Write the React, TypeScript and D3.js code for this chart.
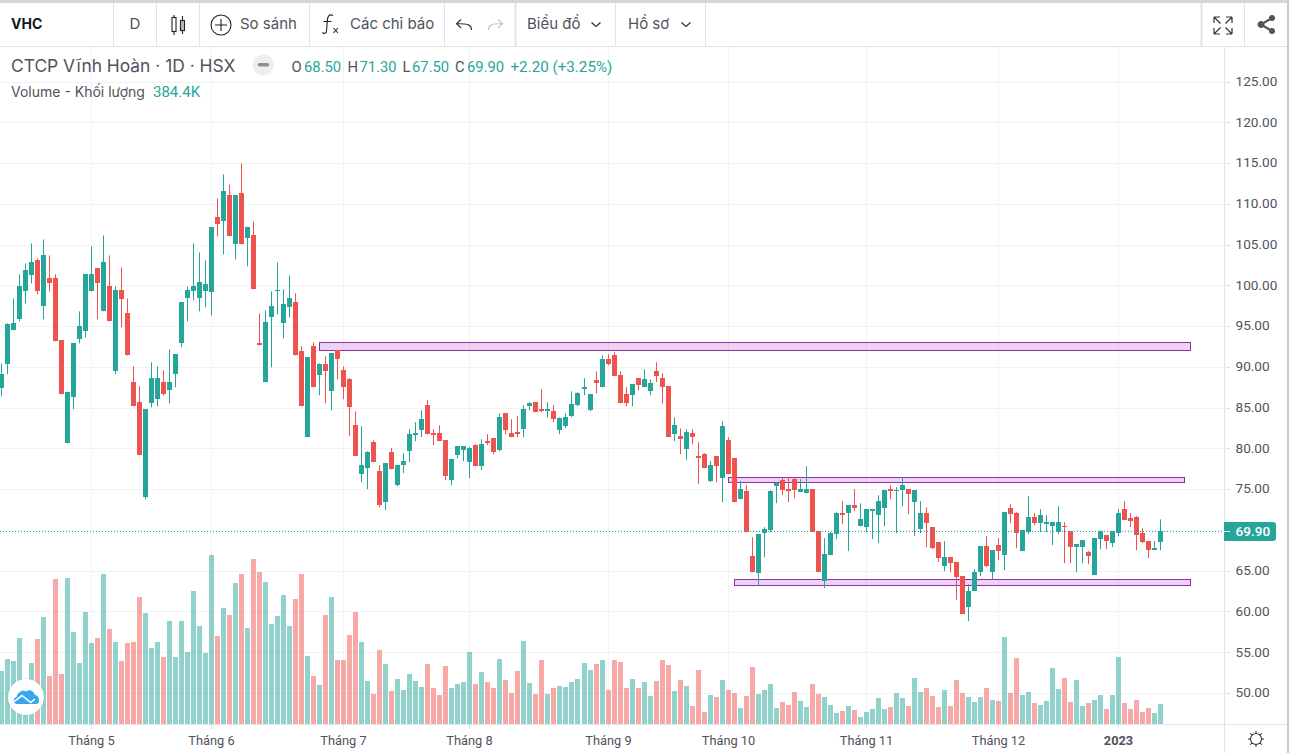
import * as d3 from 'd3'

const opens = [
    87.37,90.31,94.48,95.83,99.26,101.22,103.06,97.42,100.85,100.85,
    93.26,80.63,86.27,93.38,94.36,99.26,102.08,96.81,99.87,89.46,
    99.38,96.56,88.11,85.66,74.01,85.53,86.02,88.11,87.13,89.09,
    92.89,98.40,99.26,98.40,99.26,99.14,108.33,107.84,111.03,105.02,
    111.27,105.76,106.12,92.90,88.11,96.07,99.26,95.34,97.30,97.91,
    91.91,81.37,92.52,88.97,90.32,87.01,92.03,89.58,88.48,82.84,
    76.84,77.57,80.76,77.21,73.41,79.53,75.49,77.94,79.66,81.62,
    82.23,85.29,81.86,81.86,81.0,76.10,79.17,79.78,78.31,80.39,
    77.82,80.88,81.25,79.78,84.31,81.86,81.98,82.35,85.17,85.66,
    84.80,84.56,84.56,82.23,82.72,83.95,85.29,87.25,84.68,88.36,
    87.50,90.93,91.42,88.97,86.64,86.51,88.60,87.50,87.01,89.46,
    88.60,87.62,81.74,81.49,79.90,81.86,79.04,79.28,75.98,79.04,
    76.34,81.0,78.79,73.77,74.75,66.78,64.70,69.60,69.97,75.37,
    76.10,75.0,76.22,74.63,74.51,75.0,69.85,63.72,66.91,69.48,
    72.06,72.06,73.03,70.46,70.34,72.30,71.81,72.67,75.0,74.75,
    74.87,75.0,73.40,70.09,72.06,70.34,68.50,65.56,66.66,66.05,
    64.33,60.54,62.50,64.82,68.01,64.82,68.13,66.91,72.67,72.06,
    67.40,69.73,71.56,70.83,70.71,70.46,69.73,70.46,69.85,67.89,
    67.89,67.28,64.46,68.87,69.36,68.38,69.60,72.55,71.44,71.56,
    69.60,68.62,67.52,68.50
]

const closes = [
    89.09,95.22,95.34,99.87,101.83,102.81,99.26,103.67,100.24,93.13,
    86.64,86.88,92.89,94.97,101.34,101.34,100.24,102.81,95.58,99.38,
    98.28,91.42,85.17,79.16,84.80,88.60,88.60,86.64,88.11,91.54,
    97.91,99.38,99.87,100.36,100.12,107.10,107.47,111.52,106.00,111.03,
    105.02,107.10,99.51,92.70,95.46,97.42,99.38,97.67,98.40,91.42,
    85.17,91.17,87.50,90.32,89.46,91.67,90.93,87.50,85.05,79.05,
    77.94,79.53,78.31,73.04,78.19,77.45,77.94,78.43,81.74,81.86,
    83.58,81.74,81.62,80.88,76.59,78.68,80.27,80.27,80.03,77.82,
    80.52,80.64,79.53,83.82,82.23,81.37,81.74,84.80,85.54,84.44,
    84.56,84.80,83.58,83.70,83.82,85.42,86.76,87.50,86.64,87.99,
    90.93,90.32,88.85,85.54,85.53,87.86,87.74,88.48,87.99,88.84,
    87.50,81.37,82.84,81.12,81.98,81.37,78.79,77.57,77.94,77.81,
    82.72,76.83,73.40,75.0,69.73,64.82,69.48,70.09,74.75,75.73,
    74.87,74.75,74.87,75.0,75.0,69.73,64.82,67.03,69.60,72.06,
    71.81,73.03,72.67,71.32,72.54,72.54,73.53,74.87,74.75,74.87,
    75.49,74.38,74.87,72.06,70.83,67.77,66.54,66.66,65.93,64.21,
    59.68,62.50,64.82,68.01,65.56,67.52,67.40,72.18,71.93,69.60,
    69.97,71.56,70.83,71.81,70.95,70.95,70.95,70.34,67.89,68.26,
    68.75,66.79,68.99,69.85,68.62,69.85,72.06,71.20,71.07,69.36,
    68.50,67.52,67.77,69.90
]

const highs = [
    90.40,95.34,98.40,101.34,102.69,105.14,103.30,105.63,103.67,101.34,
    93.26,86.88,92.89,96.81,101.34,104.78,102.08,106.12,103.67,99.87,
    102.20,98.40,90.07,87.62,84.80,90.56,90.07,89.58,92.15,91.54,
    97.91,99.87,105.14,104.04,103.06,107.10,110.66,113.60,112.37,111.03,
    114.95,107.10,107.84,96.56,96.93,99.26,102.81,99.51,101.22,99.02,
    92.52,91.17,93.01,90.44,91.30,91.67,92.03,90.07,88.60,84.56,
    82.72,79.66,81.0,77.94,78.19,80.03,77.94,79.41,82.35,83.21,
    84.68,85.91,82.35,82.84,81.0,78.68,80.27,80.27,80.15,80.52,
    81.13,81.74,81.25,84.31,84.31,83.58,83.95,85.29,85.66,85.66,
    87.25,85.66,85.29,83.82,84.31,87.01,86.89,88.60,86.64,89.46,
    91.42,91.54,91.79,89.46,87.50,87.86,88.60,89.70,88.48,90.56,
    89.21,87.62,83.82,82.47,82.35,82.35,80.76,79.41,78.43,79.04,
    83.33,81.37,78.79,75.98,75.49,69.11,69.48,70.34,74.87,75.85,
    76.47,76.47,76.50,76.22,77.81,75.0,69.85,68.99,69.73,72.18,
    73.53,73.03,75.0,73.28,72.54,72.54,74.26,74.87,75.49,75.24,
    76.47,75.0,74.87,73.53,72.79,70.34,68.50,68.62,66.66,66.05,
    64.33,63.35,65.19,68.01,69.24,67.52,68.99,72.18,73.16,72.18,
    69.97,74.14,72.06,72.55,71.81,70.95,72.91,70.95,69.85,68.26,
    68.75,67.40,68.99,69.85,69.36,69.85,72.55,73.53,72.06,71.69,
    70.22,68.62,68.62,71.30
]

const lows = [
    86.39,89.09,94.48,95.58,97.79,100.24,98.89,95.83,99.26,93.13,
    86.64,80.63,84.80,92.89,93.62,99.26,95.83,96.81,95.58,89.09,
    94.85,91.42,85.17,79.16,73.77,85.04,85.17,86.51,85.53,87.50,
    92.40,95.58,98.16,96.81,97.30,96.32,106.00,103.79,106.00,103.18,
    105.02,102.32,99.51,92.64,88.11,89.95,96.44,93.50,96.07,91.42,
    85.17,81.37,87.50,86.52,85.54,84.68,88.48,86.03,81.50,79.05,
    75.86,75.00,78.31,72.79,72.43,77.45,75.37,76.96,78.31,80.88,
    81.37,81.74,80.39,80.88,76.10,75.49,78.80,78.43,76.35,77.82,
    77.33,80.39,79.29,79.66,81.74,81.37,81.37,81.37,84.68,84.44,
    84.44,83.82,83.21,81.74,82.48,83.82,85.17,86.52,84.56,86.76,
    87.50,90.20,88.85,85.54,85.17,85.17,87.13,87.50,86.51,88.11,
    85.53,81.37,80.88,79.28,78.55,80.51,75.61,77.57,75.85,75.85,
    73.40,76.83,73.40,73.77,69.73,64.82,63.23,66.66,69.73,73.28,
    74.26,73.40,73.89,74.63,74.51,69.73,64.82,62.86,66.91,68.87,
    70.71,67.40,72.30,70.46,69.73,68.87,68.38,70.46,73.77,69.60,
    72.91,71.93,69.24,69.60,67.89,67.64,66.05,64.95,64.82,61.39,
    59.68,58.82,62.50,64.33,65.44,63.97,66.29,65.07,70.83,67.77,
    67.40,69.48,70.58,69.73,69.73,68.13,69.48,65.93,65.93,64.82,
    65.93,65.80,64.46,67.64,67.64,67.89,69.24,71.20,70.34,67.52,
    68.38,66.54,67.52,67.50
]

// thousands of shares
const volumes = [
    1018,1248,1210,1651,590,1171,1632,2054,922,2784,
    960,2803,1766,1171,2150,1555,1651,2880,1824,1574,
    1210,1555,1574,2438,2131,1459,1574,1286,1978,1286,
    1978,1382,2554,1882,1363,3245,1690,2227,2093,2707,
    2880,1843,3168,2918,2726,1920,2074,2477,1882,2400,
    2880,1306,922,749,2093,2438,1229,1229,1709,2150,
    1574,826,576,1421,1152,634,864,653,960,826,
    710,1152,691,557,1114,691,768,806,1382,768,
    998,806,691,1248,845,595,1018,1594,787,576,
    1229,576,691,730,710,806,864,1171,1037,1152,
    1229,653,1229,1190,691,864,691,806,538,826,
    1229,1133,634,845,730,346,1037,230,557,518,
    845,653,595,307,538,1094,576,653,768,307,
    422,365,614,442,326,768,576,518,365,211,
    250,346,269,134,230,288,499,288,326,595,
    499,346,883,614,691,538,326,653,346,845,
    595,518,422,518,691,461,442,1670,595,1267,
    557,614,403,365,442,1075,672,883,422,845,
    346,403,461,557,288,557,1286,403,288,461,
    230,307,211,384.4
]

const priceTicks = [125, 120, 115, 110, 105, 100, 95, 90, 85, 80, 75, 65, 60, 55, 50]
const monthIndex = [15, 35, 57, 78, 101, 121, 144, 166, 186]
const monthLabels = ['Tháng 5', 'Tháng 6', 'Tháng 7', 'Tháng 8', 'Tháng 9', 'Tháng 10', 'Tháng 11', 'Tháng 12', '2023']

// drawn rectangles: first candle, last candle, upper price, lower price
const zoneStart = [53, 121, 122]
const zoneEnd = [198, 197, 198]
const zoneTop = [93.0, 76.44, 63.93]
const zoneBottom = [92.02, 75.83, 63.19]

const lastPrice = 69.9

// legend readout of the last candle
const ohlcNames = ['O', 'H', 'L', 'C']
const ohlcValues = ['68.50', '71.30', '67.50', '69.90']

const UP = '#26a69a'
const DOWN = '#ef5350'
const GRID = '#f2f3f5'
const BORDER = '#e0e3eb'
const TEXT = '#50535e'
const FONT = 'Roboto, sans-serif'
const UI_FONT = 'Inter, sans-serif'

const x = d3.scaleLinear().domain([0, 193]).range([1.5, 1160.5])
const y = d3.scaleLinear().domain([50, 125]).range([693, 81.5])
const yVol = d3.scaleLinear().domain([0, 3245]).range([724, 555])

// candle centre snapped to the pixel grid
const px = (i: number) => Math.ceil(x(i)) - 0.5

const separators = [113, 156, 199, 309, 444, 515, 615, 705, 1201, 1244]

const Toolbar = () => (
    <g fontFamily={UI_FONT} fontSize={15} fill={TEXT}>
        <rect x={0} y={0} width={1289} height={3} fill="#d6d7d9" />
        <rect x={1287} y={0} width={2} height={753} fill="#c9cacd" />
        <line x1={0} x2={1287} y1={46.5} y2={46.5} stroke={BORDER} />
        {separators.map(s => (
            <line key={s} x1={s + 0.5} x2={s + 0.5} y1={3} y2={46} stroke={BORDER} strokeWidth={s === 515 || s === 1201 ? 2 : 1} />
        ))}
        <text x={11} y={29} fontWeight={700} fontSize={14} fill="#131722">VHC</text>
        <text x={129.5} y={29}>D</text>
        {/* candle icon */}
        <g stroke="#222" fill="none" strokeWidth={1.1}>
            <path d="M174 15 V35 M182.5 16 V34" />
            <rect x={172} y={17.5} width={4} height={14} fill="#fff" />
            <rect x={180.5} y={20.5} width={4} height={10} fill="#bbb" />
        </g>
        <g stroke="#222" fill="none" strokeWidth={1.1}>
            <circle cx={221} cy={25} r={10} />
            <path d="M221 19 V31 M215 25 H227" />
        </g>
        <text x={240} y={29}>So sánh</text>
        {/* fx icon */}
        <g fill="none" stroke="#222" strokeWidth={1.1}>
            <path d="M333 15.5 C329 13.5 327.5 16.5 327.3 21 L326.6 30 C326.4 34 324 34 322.5 32.5 M323.5 21.5 H331.5" />
            <path d="M333.5 28 L338 33 M338 28 L333.5 33" />
        </g>
        <text x={350} y={29}>Các chỉ báo</text>
        <g fill="none" strokeWidth={1.2}>
            <path d="M471.5 30 C471.5 25 468 23.5 457 23.8 M461 19.5 L456.5 23.8 L461 28" stroke="#333" />
            <path d="M488.5 30 C488.5 25 492 23.5 502 23.8 M498 19.5 L502.5 23.8 L498 28" stroke="#c5c7cc" />
        </g>
        <text x={527} y={29}>Biểu đồ</text>
        <path d="M591.5 22.5 L596 26.5 L600.5 22.5" fill="none" stroke="#333" strokeWidth={1.3} />
        <text x={628} y={29}>Hồ sơ</text>
        <path d="M681.5 22.5 L686 26.5 L690.5 22.5" fill="none" stroke="#333" strokeWidth={1.3} />
        {/* fullscreen */}
        <g fill="none" stroke="#333" strokeWidth={1.2}>
            <path d="M1214 17 H1220 M1214 17 V23 M1214 17 L1220.5 23.5" />
            <path d="M1232 17 H1226 M1232 17 V23 M1232 17 L1225.5 23.5" />
            <path d="M1214 34 H1220 M1214 34 V28 M1214 34 L1220.5 27.5" />
            <path d="M1232 34 H1226 M1232 34 V28 M1232 34 L1225.5 27.5" />
        </g>
        {/* share */}
        <g fill="#555" stroke="#555">
            <path d="M1272 18 L1261 24.5 L1272 31" fill="none" strokeWidth={2.2} />
            <circle cx={1272} cy={18} r={2.6} />
            <circle cx={1261} cy={24.5} r={3} />
            <circle cx={1272} cy={31} r={2.6} />
        </g>
    </g>
)

// x of each letter and value of the OHLC readout
const ohlcNameX = [291.5, 347.5, 402.5, 455]
const ohlcValueX = [304, 359.5, 412, 467]

const Legend = () => (
    <g fontFamily={FONT}>
        <text x={11} y={71.5} fontFamily={UI_FONT} fontSize={17.4} fill={TEXT}>CTCP Vĩnh Hoàn · 1D · HSX</text>
        <circle cx={263.3} cy={65} r={10.5} fill="#eceef0" />
        <rect x={257.7} y={63} width={11.5} height={3.6} rx={1.8} fill="#8b8e96" />
        <g fontSize={14.8}>
            {ohlcNames.map((name, i) => (
                <g key={name}>
                    <text x={ohlcNameX[i]} y={72} fill={TEXT}>{name}</text>
                    <text x={ohlcValueX[i]} y={72} fill={UP}>{ohlcValues[i]}</text>
                </g>
            ))}
            <text x={510.5} y={72} fontSize={15.2} fill={UP}>+2.20 (+3.25%)</text>
        </g>
        <text x={11} y={97} fontFamily={UI_FONT} fontSize={14} fill={TEXT}>Volume - Khối lượng</text>
        <text x={153} y={97} fontSize={15} fill={UP}>384.4K</text>
    </g>
)

const App = () => {
    const n = closes.length
    const candles = d3.range(n).map(i => {
        const c = px(i)
        const up = closes[i] >= opens[i]
        const top = Math.round(y(Math.max(opens[i], closes[i])))
        const bottom = Math.round(y(Math.min(opens[i], closes[i])))
        const colour = up ? UP : DOWN
        return (
            <g key={i} fill={colour}>
                <rect x={c - 0.5} y={y(highs[i])} width={1} height={y(lows[i]) - y(highs[i])} />
                <rect x={c - 2.5} y={top} width={5} height={Math.max(1, bottom - top)} />
            </g>
        )
    })

    const volumeBars = d3.range(n).map(i => (
        <rect
            key={i}
            x={px(i) - 2.5}
            y={yVol(volumes[i])}
            width={5}
            height={yVol(0) - yVol(volumes[i])}
            fill={closes[i] >= opens[i] ? UP : DOWN}
            fillOpacity={0.5}
        />
    ))

    const zones = zoneStart.map((s, i) => (
        <rect
            key={i}
            x={px(s)}
            y={Math.round(y(zoneTop[i])) + 0.5}
            width={px(zoneEnd[i]) - px(s)}
            height={Math.round(y(zoneBottom[i])) - Math.round(y(zoneTop[i]))}
            fill="#9c27b0"
            fillOpacity={0.2}
            stroke="#9c27b0"
            strokeWidth={1}
        />
    ))

    const lastY = Math.round(y(lastPrice)) + 0.5

    return (
        <div style={{ position: 'fixed', left: 0, top: 0 }}>
            <svg width={1289} height={753} style={{ display: 'block', background: '#fff' }}>
                {/* grid */}
                {priceTicks.concat([70]).map(t => (
                    <line key={t} x1={0} x2={1224} y1={Math.round(y(t)) + 0.5} y2={Math.round(y(t)) + 0.5} stroke={GRID} />
                ))}
                {monthIndex.map(m => (
                    <line key={m} x1={px(m)} x2={px(m)} y1={47} y2={724} stroke={GRID} />
                ))}
                {zones}
                {volumeBars}
                {candles}
                <line x1={0} x2={1224} y1={lastY} y2={lastY} stroke={UP} strokeDasharray="1 2" />

                {/* axes */}
                <line x1={1224.5} x2={1224.5} y1={47} y2={753} stroke={BORDER} />
                <line x1={0} x2={1287} y1={724.5} y2={724.5} stroke={BORDER} />
                <g fontFamily={FONT} fontSize={13.6} fill={TEXT}>
                    {priceTicks.map(t => (
                        <g key={t}>
                            <line x1={1225} x2={1230} y1={Math.round(y(t)) + 0.5} y2={Math.round(y(t)) + 0.5} stroke={BORDER} />
                            <text x={1235.5} y={y(t) + 4.3}>{t.toFixed(2)}</text>
                        </g>
                    ))}
                </g>
                <path d="M1224 522 H1273 a3 3 0 0 1 3 3 V538 a3 3 0 0 1 -3 3 H1224 Z" fill={UP} />
                <line x1={1224} x2={1230} y1={lastY} y2={lastY} stroke="#fff" />
                <text x={1235.5} y={536.3} fontFamily={FONT} fontSize={13.6} fontWeight={500} fill="#fff">{lastPrice.toFixed(2)}</text>

                <g fontFamily={FONT} fontSize={12.8} fill={TEXT} textAnchor="middle">
                    {monthIndex.map((m, i) => (
                        <g key={m}>
                            <line x1={px(m)} x2={px(m)} y1={725} y2={729} stroke={BORDER} />
                            <text x={px(m)} y={745} fontWeight={monthLabels[i] === '2023' ? 700 : 400}>{monthLabels[i]}</text>
                        </g>
                    ))}
                </g>

                {/* settings icon */}
                <g fill="none" stroke="#333" strokeWidth={1.1}>
                    <circle cx={1256} cy={739} r={5.5} />
                    <path d="M1256 731 V733.5 M1256 744.5 V747 M1248 739 H1250.5 M1261.5 739 H1264 M1250.3 733.3 L1252.1 735.1 M1259.9 742.9 L1261.7 744.7 M1250.3 744.7 L1252.1 742.9 M1259.9 735.1 L1261.7 733.3" />
                </g>

                {/* logo button */}
                <circle cx={26} cy={697} r={19} fill="#000" fillOpacity={0.06} />
                <circle cx={26} cy={697} r={18} fill="#fff" />
                <path d="M17 704 C13 704 12.5 698 16.5 697 C18 692 22.5 689.5 26 691.5 C29 689 33.5 690 35 695 C40 695.5 40.5 704 36 704 Z" fill="#3aa5ef" />
                <path d="M14 701.7 L22 695.5 L30.7 702.5 L35 699" fill="none" stroke="#fff" strokeWidth={1.6} />

                <Toolbar />
                <Legend />
            </svg>
        </div>
    )
}

export default App
